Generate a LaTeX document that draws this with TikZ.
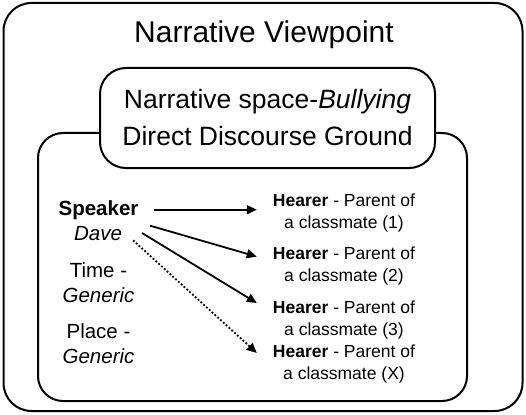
\documentclass[tikz,border=0pt]{standalone}
\usepackage{fontspec}
\setmainfont{Liberation Sans}
\usepackage{tikz}
\usetikzlibrary{arrows.meta, positioning}

\begin{document}
\begin{tikzpicture}[
    x=1pt, y=-1pt,
    frame/.style={rectangle, draw, line width=2pt, rounded corners=26pt, inner sep=0pt},
    title/.style={font=\fontsize{30}{36}\selectfont},
    spacetext/.style={font=\fontsize{26.5}{37}\selectfont, align=center},
    role/.style={font=\fontsize{20.5}{25}\selectfont, align=center, inner sep=0pt},
    hearer/.style={font=\fontsize{17.5}{22}\selectfont, align=center, inner sep=0pt},
    arrow/.style={-{Triangle[length=10pt, width=9pt]}, line width=1.8pt}
]
    \useasboundingbox (0,0) rectangle (526,414);

    % frames
    \node[frame, rounded corners=28pt, minimum width=519pt, minimum height=408pt] (viewpoint) at (263,207) {};
    \node[frame, rounded corners=25pt, minimum width=429pt, minimum height=268pt] (ground) at (252.5,267) {};
    \node[frame, spacetext, fill=white, minimum width=335pt, minimum height=100pt] (space) at (267.5,118)
        {Narrative space-\textit{Bullying}\\Direct Discourse Ground};
    \node[title, anchor=base] (heading) at (264,43) {Narrative Viewpoint};

    % speaker side
    \node[role, anchor=base] (speaker) at (98.5,215) {\textbf{Speaker}};
    \node[role, anchor=base] (dave) at (98,240) {\textit{Dave}};
    \node[role] (time) at (98.5,282.3) {Time -\\\textit{Generic}};
    \node[role] (place) at (98.5,343.2) {Place -\\\textit{Generic}};

    % hearers
    \node[hearer] (h1) at (344,212.6) {\textbf{Hearer} - Parent of\\a classmate (1)};
    \node[hearer] (h2) at (344,265.6) {\textbf{Hearer} - Parent of\\a classmate (2)};
    \node[hearer] (h3) at (344,319.6) {\textbf{Hearer} - Parent of\\a classmate (3)};
    \node[hearer] (hx) at (344,363.6) {\textbf{Hearer} - Parent of\\a classmate (X)};

    \draw[arrow, shorten <=15pt, shorten >=16pt] (speaker.east) -- (speaker.east -| h1.west);
    \draw[arrow] ([xshift=28pt]dave.north east) -- ([xshift=-16pt, yshift=9pt]h2.west);
    \draw[arrow] ([xshift=20pt]dave.east) -- ([xshift=-16pt, yshift=16.6pt]h3.west);
    \draw[arrow, dotted] ([xshift=11pt]dave.south east) -- ([xshift=-16pt, yshift=10.6pt]hx.west);
\end{tikzpicture}
\end{document}
